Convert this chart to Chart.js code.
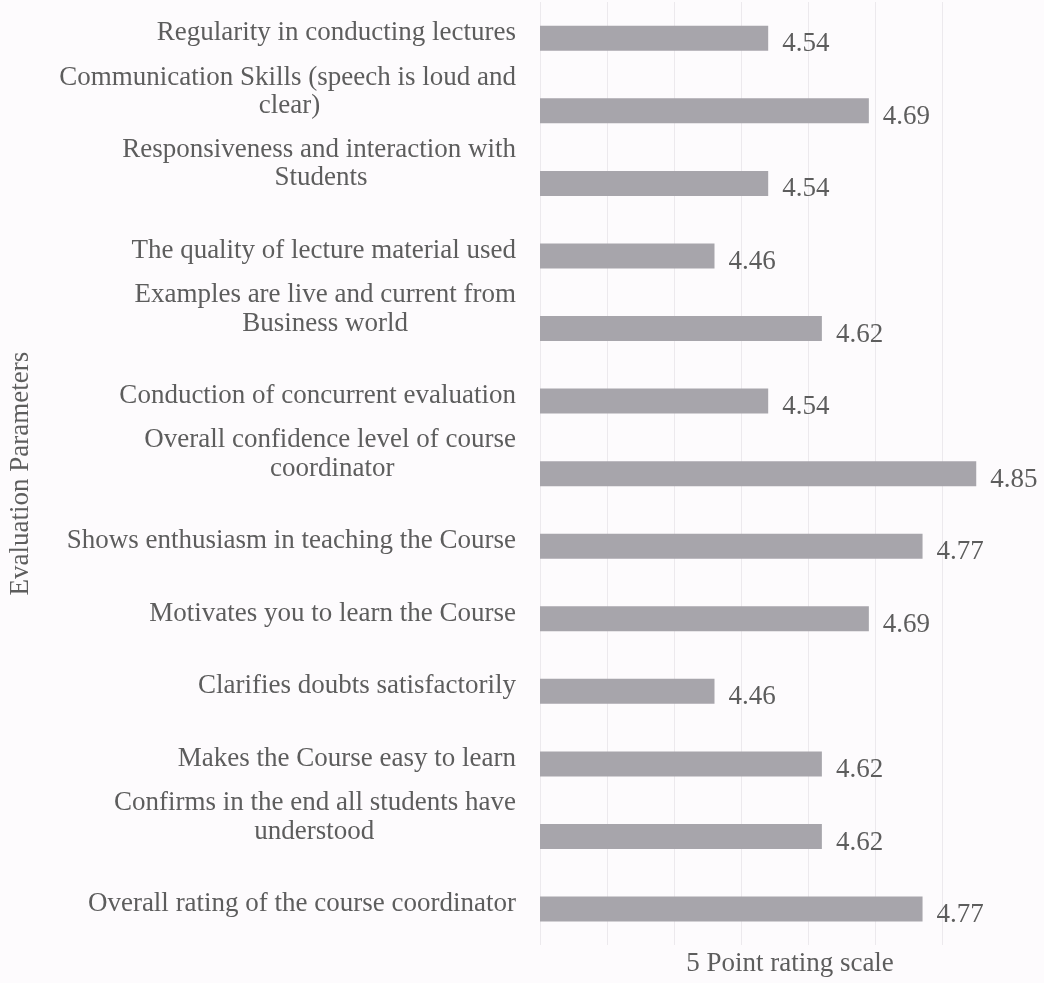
<!DOCTYPE html>
<html lang="en">
<head>
  <meta charset="utf-8">
  <title>Evaluation Parameters</title>
  <script src="https://cdn.jsdelivr.net/npm/chart.js"></script>
  <style>
    body {
      margin: 0;
      background-color: #fdfbfd;
    }
    .chart-box {
      width: 1044px;
      height: 983px;
    }
  </style>
</head>
<body>
  <div class="chart-box">
    <canvas id="ratingChart"></canvas>
  </div>
  <script>
    // Data, top row first
    const parameters = [
      'Regularity in conducting lectures',
      ['Communication Skills (speech is loud and', 'clear)'],
      ['Responsiveness and interaction with', 'Students'],
      'The quality of lecture material used',
      ['Examples are live and current from', 'Business world'],
      'Conduction of concurrent evaluation',
      ['Overall confidence level of course', 'coordinator'],
      'Shows enthusiasm in teaching the Course',
      'Motivates you to learn the Course',
      'Clarifies doubts satisfactorily',
      'Makes the Course easy to learn',
      ['Confirms in the end all students have', 'understood'],
      'Overall rating of the course coordinator'
    ];
    const ratings = [4.54, 4.69, 4.54, 4.46, 4.62, 4.54, 4.85, 4.77, 4.69, 4.46, 4.62, 4.62, 4.77];
    const xTitle = '5 Point rating scale';
    const yTitle = 'Evaluation Parameters';

    const fontFamily = '"Liberation Serif", "Times New Roman", serif';
    const fontSize = 27;
    const textColor = '#5d5d5d';

    // wrapped labels: centre the short line under the long one (labels are right aligned),
    // and add an empty line so the block sits above the bar like in the original
    const measureCtx = document.createElement('canvas').getContext('2d');
    measureCtx.font = fontSize + 'px ' + fontFamily;
    function centerLines(label) {
      if (!Array.isArray(label)) return label;
      const widest = Math.max(...label.map(l => measureCtx.measureText(l).width));
      const space = measureCtx.measureText('\u00a0').width;
      const lines = label.map(l => l + '\u00a0'.repeat(Math.round((widest - measureCtx.measureText(l).width) / 2 / space)));
      return lines.concat(['']);
    }

    // numbers printed just past the end of each bar
    const valueLabels = {
      id: 'valueLabels',
      afterDatasetsDraw(chart) {
        const ctx = chart.ctx;
        const meta = chart.getDatasetMeta(0);
        ctx.save();
        ctx.font = fontSize + 'px ' + fontFamily;
        ctx.fillStyle = textColor;
        ctx.textBaseline = 'middle';
        meta.data.forEach((bar, i) => {
          ctx.fillText(ratings[i].toFixed(2), bar.x + 14, bar.y + 6);
        });
        ctx.restore();
      }
    };

    const ctx = document.getElementById('ratingChart').getContext('2d');
    const ratingChart = new Chart(ctx, {
      type: 'bar',
      data: {
        labels: parameters.map(centerLines),
        datasets: [{
          data: ratings,
          backgroundColor: '#a7a5ab',
          barPercentage: 0.69,
          categoryPercentage: 0.5
        }]
      },
      options: {
        indexAxis: 'y',
        responsive: true,
        maintainAspectRatio: false,
        animation: false,
        layout: {
          padding: { top: 2, right: 4, bottom: 4, left: 6 }
        },
        plugins: {
          legend: { display: false },
          tooltip: { enabled: false }
        },
        scales: {
          x: {
            min: 4.2,
            max: 4.945,
            ticks: { display: false, stepSize: 0.1 },
            grid: {
              color: c => (c.tick && c.tick.value > 4.91) ? 'transparent' : '#ece9ed',
              drawTicks: false
            },
            border: { display: false },
            title: {
              display: true,
              text: xTitle,
              color: textColor,
              font: { family: fontFamily, size: fontSize, lineHeight: 1.1 },
              padding: { top: 4, bottom: 0 }
            }
          },
          y: {
            afterFit(scale) {
              scale.width = 534;
              scale.paddingTop = 0;
              scale.paddingBottom = 0;
            },
            ticks: {
              autoSkip: false,
              color: textColor,
              font: { family: fontFamily, size: fontSize, lineHeight: 1.05 },
              padding: 16,
              labelOffset: -5
            },
            grid: { display: false },
            border: { display: false },
            title: {
              display: true,
              text: yTitle,
              color: textColor,
              font: { family: fontFamily, size: fontSize, lineHeight: 1.1 },
              padding: { top: 0, bottom: 6 }
            }
          }
        }
      },
      plugins: [valueLabels]
    });
  </script>
</body>
</html>
